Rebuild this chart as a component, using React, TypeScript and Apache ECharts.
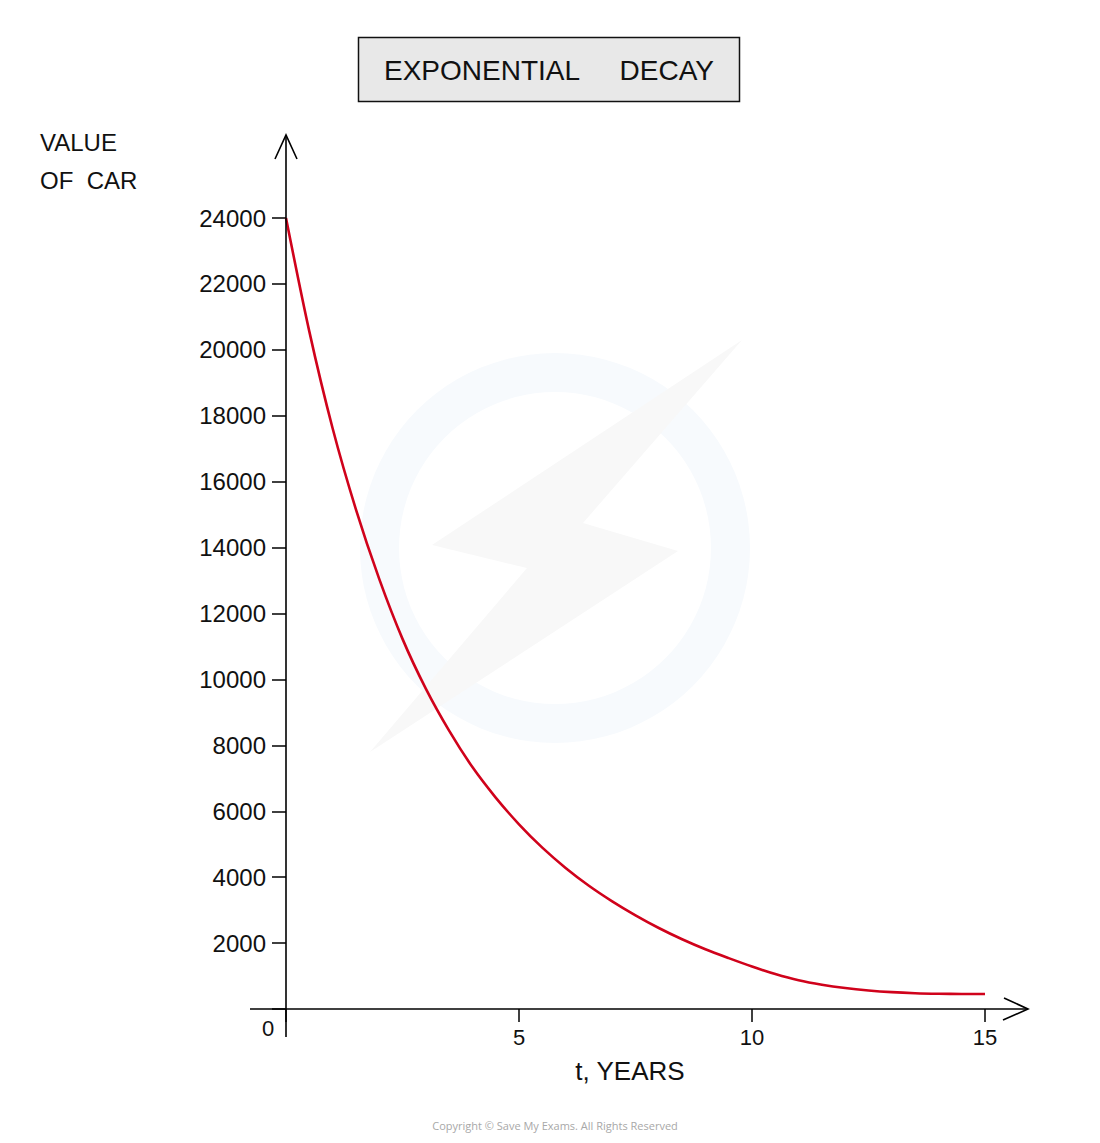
import React, { useEffect, useRef } from "react";
import * as echarts from "echarts";

const years = [0, 0.5, 1, 1.5, 2, 2.5, 3, 3.5, 4, 4.5, 5, 5.5, 6, 6.5, 7, 7.5, 8, 8.5, 9, 9.5, 10, 10.5, 11, 11.5, 12, 12.5, 13, 13.5, 14, 14.5, 15];
const carValues = [24000, 20560, 17620, 15160, 13050, 11230, 9720, 8445, 7340, 6415, 5605, 4895, 4280, 3740, 3267, 2842, 2458, 2116, 1812, 1544, 1290, 1060, 870, 735, 635, 563, 512, 480, 463, 456, 455];
const xTicks = [0, 5, 10, 15];
const yTickMax = 24000;
const yTickStep = 2000;
const titleWords = ["EXPONENTIAL", "DECAY"];
const yAxisTitle = ["VALUE", "OF  CAR"];
const xAxisTitle = "t, YEARS";
const copyright = "Copyright © Save My Exams. All Rights Reserved";

const FONT = "Liberation Sans";

export default function App() {
  const ref = useRef<HTMLDivElement>(null);
  useEffect(() => {
    if (!ref.current) return;
    const chart = echarts.init(ref.current, null, { renderer: "svg" });
    const data = years.map((t, i) => [t, carValues[i]]);
    chart.setOption({
      animation: false,
      backgroundColor: "#ffffff",
      grid: { left: 286, right: 115, top: 218, bottom: 134 },
      xAxis: {
        type: "value",
        min: xTicks[0],
        max: xTicks[xTicks.length - 1],
        interval: 5,
        axisLine: { show: false },
        axisTick: { show: true, length: 13, lineStyle: { color: "#000", width: 1.5 } },
        splitLine: { show: false },
        axisLabel: {
          margin: 17,
          fontSize: 22,
          fontFamily: FONT,
          color: "#111",
          formatter: (v: number) => (v === 0 ? "" : String(v)),
        },
      },
      yAxis: {
        type: "value",
        min: 0,
        max: yTickMax,
        interval: yTickStep,
        axisLine: { show: false },
        axisTick: { show: true, length: 14, lineStyle: { color: "#000", width: 1.5 } },
        splitLine: { show: false },
        axisLabel: {
          margin: 20,
          fontSize: 24,
          fontFamily: FONT,
          color: "#111",
          formatter: (v: number) => (v === 0 ? "" : String(v)),
        },
      },
      series: [
        {
          type: "line",
          data,
          smooth: 0.3,
          showSymbol: false,
          lineStyle: { color: "#d0021b", width: 2.6 },
          z: 5,
        },
      ],
    });

    const o = chart.convertToPixel({ gridIndex: 0 }, [0, 0]) as number[];
    const xEnd = chart.convertToPixel({ gridIndex: 0 }, [15, 0]) as number[];
    const yTop = chart.convertToPixel({ gridIndex: 0 }, [0, yTickMax]) as number[];
    const ox = o[0];
    const oy = o[1];
    const axisStyle = { stroke: "#000", lineWidth: 1.6, fill: null };
    const xArrowX = xEnd[0] + 43;
    const yArrowY = yTop[1] - 83;
    const cx = 555;
    const cy = 548;

    chart.setOption({
      graphic: [
        // faint watermark
        {
          type: "ring",
          shape: { cx, cy, r: 195, r0: 156 },
          style: { fill: "#f7fafd" },
          z: -10,
          silent: true,
        },
        {
          type: "polygon",
          shape: {
            points: [
              [742, 340],
              [432, 545],
              [527, 568],
              [370, 752],
              [678, 551],
              [583, 523],
            ],
          },
          style: { fill: "#f8f8f8" },
          z: -9,
          silent: true,
        },
        // x axis with arrow
        {
          type: "line",
          shape: { x1: ox - 36, y1: oy, x2: xArrowX, y2: oy },
          style: axisStyle,
          z: 10,
        },
        {
          type: "polyline",
          shape: { points: [[xArrowX - 24, oy - 11], [xArrowX, oy], [xArrowX - 25, oy + 11]] },
          style: axisStyle,
          z: 10,
        },
        // y axis with arrow
        {
          type: "line",
          shape: { x1: ox, y1: oy + 28, x2: ox, y2: yArrowY },
          style: axisStyle,
          z: 10,
        },
        {
          type: "polyline",
          shape: { points: [[ox - 11, yArrowY + 24], [ox, yArrowY], [ox + 11, yArrowY + 24]] },
          style: axisStyle,
          z: 10,
        },
        // origin label
        {
          type: "text",
          x: ox - 18,
          y: oy + 19,
          style: { text: "0", fontSize: 22, fontFamily: FONT, fill: "#111", align: "center", verticalAlign: "middle" },
          z: 10,
        },
        // title box
        {
          type: "rect",
          shape: { x: 358.5, y: 37.5, width: 381, height: 64 },
          style: { fill: "#e8e8e8", stroke: "#111", lineWidth: 1.5 },
          z: 10,
        },
        {
          type: "text",
          x: 384,
          y: 70,
          style: { text: titleWords[0], fontSize: 28, fontFamily: FONT, fill: "#111", align: "left", verticalAlign: "middle" },
          z: 11,
        },
        {
          type: "text",
          x: 714,
          y: 70,
          style: { text: titleWords[1], fontSize: 28, fontFamily: FONT, fill: "#111", align: "right", verticalAlign: "middle" },
          z: 11,
        },
        // y axis title
        {
          type: "text",
          x: 40,
          y: 142,
          style: { text: yAxisTitle[0], fontSize: 24, fontFamily: FONT, fill: "#111", align: "left", verticalAlign: "middle" },
          z: 10,
        },
        {
          type: "text",
          x: 40,
          y: 180,
          style: { text: yAxisTitle[1], fontSize: 24, fontFamily: FONT, fill: "#111", align: "left", verticalAlign: "middle" },
          z: 10,
        },
        // x axis title
        {
          type: "text",
          x: 630,
          y: 1071,
          style: { text: xAxisTitle, fontSize: 26, fontFamily: FONT, fill: "#111", align: "center", verticalAlign: "middle" },
          z: 10,
        },
        // copyright
        {
          type: "text",
          x: 555,
          y: 1125,
          style: { text: copyright, fontSize: 11, fontFamily: "Open Sans", fill: "#a8a8a8", align: "center", verticalAlign: "middle" },
          z: 10,
        },
      ],
    });

    return () => chart.dispose();
  }, []);

  return (
    <div
      ref={ref}
      style={{ position: "absolute", left: 0, top: 0, width: 1100, height: 1143, background: "#fff" }}
    />
  );
}
